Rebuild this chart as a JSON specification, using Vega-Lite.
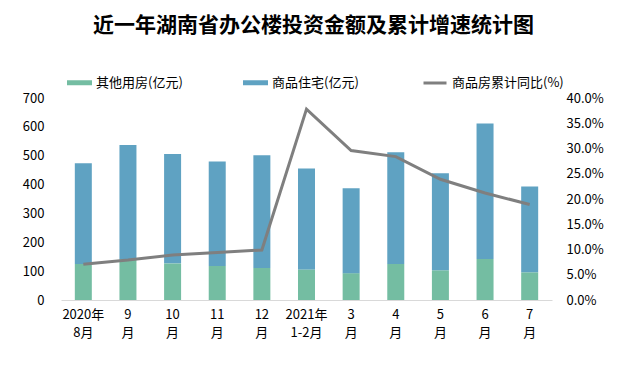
{
  "$schema": "https://vega.github.io/schema/vega-lite/v6.json",
  "width": 491,
  "height": 202,
  "autosize": {"type": "none"},
  "padding": {"left": 61, "top": 98, "right": 79, "bottom": 69},
  "background": "white",
  "title": {
    "text": "近一年湖南省办公楼投资金额及累计增速统计图",
    "anchor": "middle",
    "frame": "group",
    "dx": 7,
    "offset": 34,
    "fontSize": 21,
    "font": "Noto Sans CJK SC",
    "fontWeight": "bold",
    "color": "#000000"
  },
  "datasets": {
    "bars": [
      {"month": "2020年|8月", "type": "其他用房(亿元)", "value": 125},
      {"month": "2020年|8月", "type": "商品住宅(亿元)", "value": 349},
      {"month": "9|月", "type": "其他用房(亿元)", "value": 142},
      {"month": "9|月", "type": "商品住宅(亿元)", "value": 395},
      {"month": "10|月", "type": "其他用房(亿元)", "value": 127},
      {"month": "10|月", "type": "商品住宅(亿元)", "value": 379},
      {"month": "11|月", "type": "其他用房(亿元)", "value": 118},
      {"month": "11|月", "type": "商品住宅(亿元)", "value": 362},
      {"month": "12|月", "type": "其他用房(亿元)", "value": 111},
      {"month": "12|月", "type": "商品住宅(亿元)", "value": 391},
      {"month": "2021年|1-2月", "type": "其他用房(亿元)", "value": 106},
      {"month": "2021年|1-2月", "type": "商品住宅(亿元)", "value": 350},
      {"month": "3|月", "type": "其他用房(亿元)", "value": 93},
      {"month": "3|月", "type": "商品住宅(亿元)", "value": 294},
      {"month": "4|月", "type": "其他用房(亿元)", "value": 125},
      {"month": "4|月", "type": "商品住宅(亿元)", "value": 387},
      {"month": "5|月", "type": "其他用房(亿元)", "value": 103},
      {"month": "5|月", "type": "商品住宅(亿元)", "value": 336},
      {"month": "6|月", "type": "其他用房(亿元)", "value": 142},
      {"month": "6|月", "type": "商品住宅(亿元)", "value": 470},
      {"month": "7|月", "type": "其他用房(亿元)", "value": 96},
      {"month": "7|月", "type": "商品住宅(亿元)", "value": 297}
    ],
    "line": [
      {"month": "2020年|8月", "series": "商品房累计同比(%)", "pct": 0.071},
      {"month": "9|月", "series": "商品房累计同比(%)", "pct": 0.079},
      {"month": "10|月", "series": "商品房累计同比(%)", "pct": 0.089},
      {"month": "11|月", "series": "商品房累计同比(%)", "pct": 0.094},
      {"month": "12|月", "series": "商品房累计同比(%)", "pct": 0.099},
      {"month": "2021年|1-2月", "series": "商品房累计同比(%)", "pct": 0.378},
      {"month": "3|月", "series": "商品房累计同比(%)", "pct": 0.296},
      {"month": "4|月", "series": "商品房累计同比(%)", "pct": 0.284},
      {"month": "5|月", "series": "商品房累计同比(%)", "pct": 0.239},
      {"month": "6|月", "series": "商品房累计同比(%)", "pct": 0.212},
      {"month": "7|月", "series": "商品房累计同比(%)", "pct": 0.189}
    ]
  },
  "encoding": {
    "x": {
      "field": "month",
      "type": "nominal",
      "sort": null,
      "scale": {"paddingInner": 0, "paddingOuter": 0},
      "axis": {
        "title": null,
        "labelAngle": 0,
        "labelExpr": "split(datum.label, '|')",
        "labelFontSize": 13,
        "labelFont": "Noto Sans CJK SC",
        "labelColor": "#000000",
        "labelLineHeight": 18,
        "labelPadding": 8,
        "ticks": false,
        "domainColor": "#D9D9D9",
        "domainWidth": 1,
        "grid": false
      }
    }
  },
  "layer": [
    {
      "data": {"name": "bars"},
      "mark": {"type": "bar", "size": 17},
      "encoding": {
        "y": {
          "field": "value",
          "type": "quantitative",
          "aggregate": "sum",
          "stack": "zero",
          "scale": {"domain": [0, 700]},
          "axis": {
            "title": null,
            "values": [0, 100, 200, 300, 400, 500, 600, 700],
            "grid": false,
            "domain": false,
            "ticks": false,
            "labelPadding": 17,
            "labelFontSize": 13,
            "labelFont": "Noto Sans CJK SC",
            "labelColor": "#000000"
          }
        },
        "color": {
          "field": "type",
          "type": "nominal",
          "scale": {
            "domain": ["其他用房(亿元)", "商品住宅(亿元)"],
            "range": ["#74BDA2", "#5FA2C2"]
          },
          "legend": {
            "title": null,
            "orient": "none",
            "legendX": 6,
            "legendY": -28,
            "direction": "horizontal",
            "symbolType": "M-1,-0.2L1,-0.2L1,0.2L-1,0.2Z",
            "symbolSize": 625,
            "symbolStrokeWidth": 0,
            "columnPadding": 60,
            "labelFontSize": 13,
            "labelFont": "Noto Sans CJK SC",
            "labelColor": "#000000",
            "labelOffset": 4
          }
        },
        "order": {"field": "type", "sort": "ascending"}
      }
    },
    {
      "data": {"name": "line"},
      "mark": {"type": "line", "strokeWidth": 3},
      "encoding": {
        "y": {
          "field": "pct",
          "type": "quantitative",
          "scale": {"domain": [0, 0.4]},
          "axis": {
            "orient": "right",
            "title": null,
            "format": ".1%",
            "values": [0, 0.05, 0.1, 0.15, 0.2, 0.25, 0.3, 0.35, 0.4],
            "grid": false,
            "domain": false,
            "ticks": false,
            "labelPadding": 14,
            "labelFontSize": 13,
            "labelFont": "Noto Sans CJK SC",
            "labelColor": "#000000"
          }
        },
        "stroke": {
          "field": "series",
          "type": "nominal",
          "scale": {"range": ["#7F7F7F"]},
          "legend": {
            "title": null,
            "orient": "none",
            "legendX": 361,
            "legendY": -28,
            "symbolType": "stroke",
            "symbolSize": 529,
            "symbolStrokeWidth": 3,
            "labelFontSize": 13,
            "labelFont": "Noto Sans CJK SC",
            "labelColor": "#000000",
            "labelOffset": 4
          }
        }
      }
    }
  ],
  "resolve": {"scale": {"y": "independent"}},
  "config": {"view": {"stroke": null}}
}
